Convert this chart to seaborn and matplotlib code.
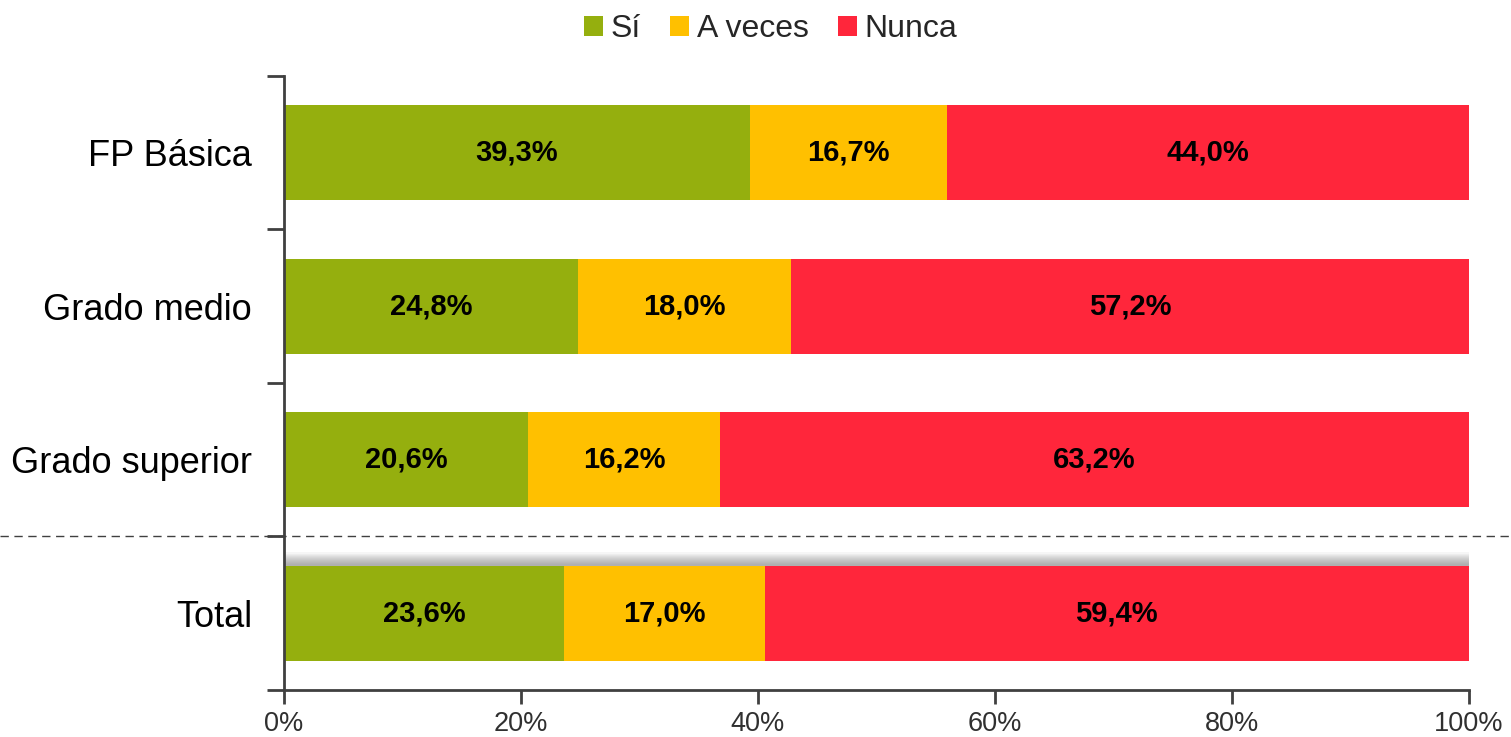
import pandas as pd
import matplotlib.pyplot as plt
import matplotlib.transforms as mtransforms
from matplotlib.patches import Patch, Rectangle
from matplotlib.lines import Line2D
import seaborn as sns

# Data
categorias = ["FP Básica", "Grado medio", "Grado superior", "Total"]
si = [39.3, 24.8, 20.6, 23.6]
a_veces = [16.7, 18.0, 16.2, 17.0]
nunca = [44.0, 57.2, 63.2, 59.4]

colores = {"Sí": "#95AF0E", "A veces": "#FFC000", "Nunca": "#FF263B"}

sns.set_theme(style="white")
plt.rcParams["font.family"] = ["Liberation Sans", "DejaVu Sans"]

df = pd.DataFrame({"cat": categorias, "Sí": si, "A veces": a_veces, "Nunca": nunca})
df["c1"] = df["Sí"]
df["c2"] = df["Sí"] + df["A veces"]
df["c3"] = df["c2"] + df["Nunca"]

fig = plt.figure(figsize=(15.11, 7.37), dpi=100)
ax = fig.add_axes([0.188, 0.064, 0.784, 0.833])

bw = 0.62
# stacked bars drawn back to front
for col, key in [("c3", "Nunca"), ("c2", "A veces"), ("c1", "Sí")]:
    sns.barplot(data=df, y="cat", x=col, color=colores[key], width=bw, saturation=1,
                ax=ax, orient="h", linewidth=0)

# soft shadow above the Total bar
top = 3 - bw / 2
n = 12
for i in range(n):
    h = 0.085 * (i + 1) / n
    ax.add_patch(Rectangle((0, top - h), 100.25, h, color="#808080", alpha=0.07,
                           lw=0, zorder=0.5))

# value labels
for i, row in df.iterrows():
    starts = [0, row["c1"], row["c2"]]
    vals = [row["Sí"], row["A veces"], row["Nunca"]]
    for s, v in zip(starts, vals):
        ax.text(s + v / 2, i, f"{v:.1f}%".replace(".", ","), ha="center", va="center",
                fontsize=21, fontweight="bold", color="black")

ax.set_xlim(0, 100)
ax.set_ylim(3.5, -0.5)
ax.set_xticks([0, 20, 40, 60, 80, 100])
ax.set_xticklabels(["0%", "20%", "40%", "60%", "80%", "100%"], fontsize=19.5, color="#303030")
ax.set_yticks([-0.5, 0.5, 1.5, 2.5, 3.5])
ax.set_yticklabels([])
ax.set_yticks(range(4), minor=True)
ax.set_yticklabels(categorias, minor=True, fontsize=26, color="black")
ax.tick_params(axis="y", which="major", direction="out", length=12, width=2, color="#404040", left=True)
ax.tick_params(axis="y", which="minor", length=0, pad=23)
ax.tick_params(axis="x", direction="out", length=10, width=2, color="#404040", bottom=True, pad=5)
ax.set_xlabel("")
ax.set_ylabel("")

for side in ["top", "right"]:
    ax.spines[side].set_visible(False)
for side in ["left", "bottom"]:
    ax.spines[side].set_color("#404040")
    ax.spines[side].set_linewidth(2)

# dashed separator across the whole figure
trans = mtransforms.blended_transform_factory(fig.transFigure, ax.transData)
fig.add_artist(Line2D([0, 1], [2.5, 2.5], transform=trans, color="#404040",
                      linestyle=(0, (6, 4)), linewidth=1))

handles = [Patch(facecolor=c, edgecolor="none", label=k) for k, c in colores.items()]
fig.legend(handles=handles, loc="upper center", bbox_to_anchor=(0.51, 1.02), ncol=3,
           frameon=False, fontsize=23, handlelength=0.6, handleheight=0.6,
           handletextpad=0.25, columnspacing=0.9)

fig.savefig("out.png", dpi=100)
